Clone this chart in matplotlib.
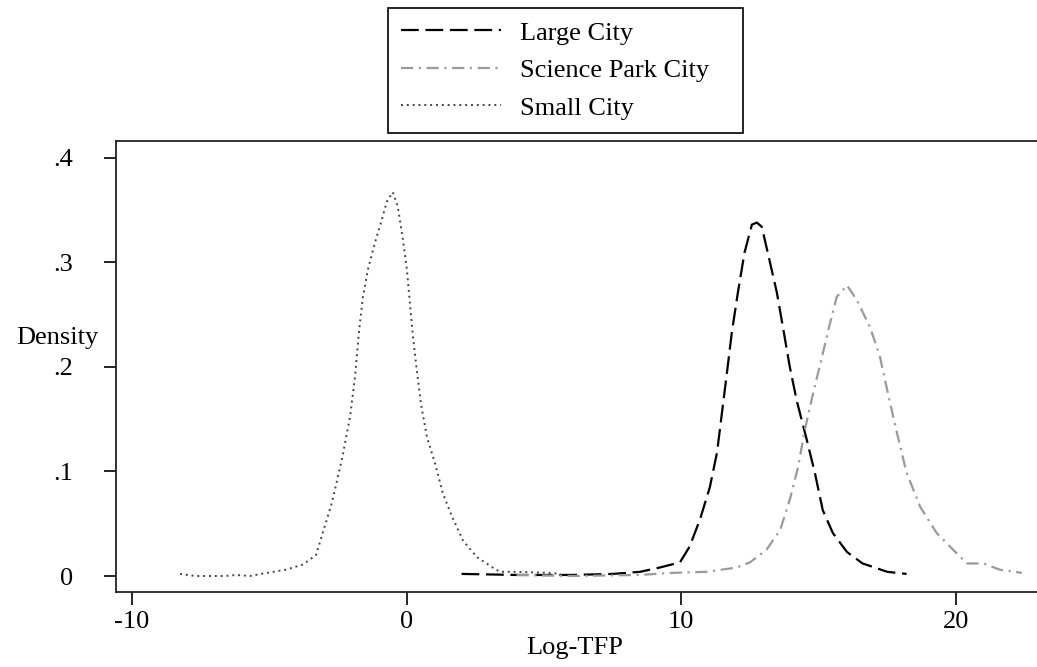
import numpy as np
import matplotlib
matplotlib.use("Agg")
import matplotlib.pyplot as plt

# kernel density curves (x = Log-TFP, y = density)
small_x = [-8.25, -7.7, -6.6, -6.2, -5.7, -5.3, -4.4, -3.77, -3.3, -3.16, -2.72, -2.36, -2.06,
           -1.88, -1.73, -1.59, -1.41, -1.15, -0.9, -0.72, -0.5, -0.32, -0.13, 0.01, 0.12,
           0.23, 0.37, 0.52, 0.74, 1.03, 1.32, 1.65, 2.05, 2.56, 3.14, 3.4, 4.0, 5.2, 5.6]
small_y = [0.002, 0.0, 0.0, 0.001, 0.0, 0.002, 0.006, 0.011, 0.02, 0.032, 0.07, 0.111, 0.152,
           0.19, 0.235, 0.267, 0.293, 0.319, 0.341, 0.358, 0.367, 0.353, 0.321, 0.293, 0.261,
           0.229, 0.197, 0.165, 0.133, 0.108, 0.079, 0.057, 0.034, 0.018, 0.008, 0.004, 0.004,
           0.003, 0.002]

large_x = [2.0, 4.0, 6.0, 7.5, 8.5, 9.2, 9.95, 10.3, 10.68, 11.04, 11.3, 11.48, 11.66, 11.84,
           12.06, 12.3, 12.57, 12.75, 12.93, 13.15, 13.48, 13.7, 13.95, 14.2, 14.57, 14.86,
           15.15, 15.52, 16.03, 16.6, 17.5, 18.2]
large_y = [0.002, 0.001, 0.001, 0.002, 0.004, 0.008, 0.013, 0.028, 0.054, 0.085, 0.118, 0.156,
           0.194, 0.233, 0.271, 0.309, 0.336, 0.338, 0.334, 0.309, 0.271, 0.238, 0.2, 0.168,
           0.13, 0.099, 0.063, 0.041, 0.023, 0.012, 0.004, 0.002]

park_x = [4.0, 6.0, 8.5, 9.7, 10.9, 12.0, 12.5, 13.1, 13.6, 13.95, 14.25, 14.5, 14.8, 15.1,
          15.35, 15.66, 16.03, 16.39, 16.87, 17.23, 17.52, 17.85, 18.2, 18.7, 19.3, 19.9,
          20.4, 21.0, 21.6, 22.4]
park_y = [0.001, 0.0, 0.001, 0.003, 0.004, 0.008, 0.013, 0.025, 0.044, 0.073, 0.104, 0.14,
          0.175, 0.207, 0.235, 0.267, 0.278, 0.264, 0.238, 0.21, 0.175, 0.137, 0.099, 0.066,
          0.041, 0.025, 0.012, 0.012, 0.006, 0.003]

xticks = [-10, 0, 10, 20]
yticks = [0, 0.1, 0.2, 0.3, 0.4]
ytick_labels = ["0", ".1", ".2", ".3", ".4"]

plt.rcParams["font.family"] = ["Liberation Serif", "DejaVu Serif"]
plt.rcParams["font.size"] = 19

fig = plt.figure(figsize=(10.37, 6.67), dpi=100)
ax = fig.add_axes([116 / 1037, 1 - 592 / 667, 1 - 116 / 1037, (592 - 141) / 667])

ax.plot(large_x, large_y, color="black", lw=1.6, linestyle=(0, (8, 3)), label="Large City")
ax.plot(park_x, park_y, color="#9a9a9a", lw=1.6, linestyle=(0, (5.5, 2.5, 1, 2.5)),
        label="Science Park City")
ax.plot(small_x, small_y, color="#444444", lw=1.4, linestyle=(0, (1, 2)), label="Small City")

ax.set_xlim(-10.58, 22.95)
ax.set_ylim(-0.0153, 0.416)
ax.set_xticks(xticks)
ax.set_xticklabels([str(t) for t in xticks])
ax.set_yticks(yticks)
ax.set_yticklabels(ytick_labels)
ax.tick_params(axis="both", direction="out", length=9, width=1.2, color="black")
ax.tick_params(axis="y", pad=22)
ax.tick_params(axis="x", pad=5)
ax.spines["right"].set_visible(False)
for s in ["left", "bottom", "top"]:
    ax.spines[s].set_linewidth(1.3)
    ax.spines[s].set_color("#222222")

fig.text(57 / 1037, 1 - 338 / 667, "Density", ha="center", va="center")
fig.text(575 / 1037, 1 - 648 / 667, "Log-TFP", ha="center", va="center")

leg = fig.legend(loc="upper left", bbox_to_anchor=(388 / 1037, 1 - 8 / 667, 355 / 1037, 0),
                 mode="expand", fancybox=False, edgecolor="black", framealpha=1,
                 handlelength=3.8, handletextpad=0.7, labelspacing=0.53, borderpad=0.5,
                 borderaxespad=0)
leg.get_frame().set_linewidth(1.2)

fig.savefig("out.png", dpi=100)
